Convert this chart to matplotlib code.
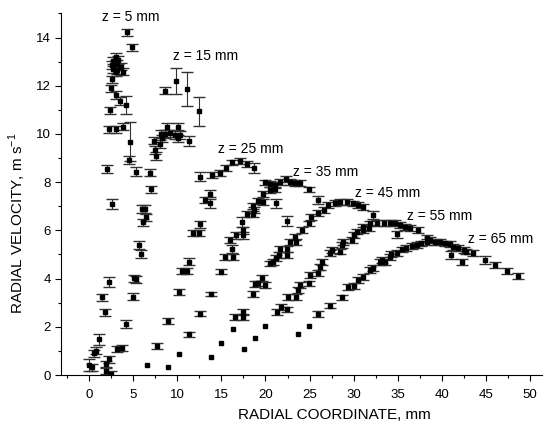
import numpy as np
import matplotlib
matplotlib.use("Agg")
import matplotlib.pyplot as plt
from matplotlib.ticker import MultipleLocator

plt.rcParams['font.family'] = ['Liberation Sans', 'DejaVu Sans']
plt.rcParams['mathtext.fontset'] = 'custom'
plt.rcParams['mathtext.rm'] = 'Liberation Sans'

# radial coordinate (mm), radial velocity (m/s), error (m/s); 0 error = plain marker
r_z5 = [0.0, 0.27, 0.57, 0.76, 1.13, 1.40, 1.78, 1.90, 1.90, 2.27, 2.43, 2.24, 2.54, 2.04,
        2.27, 3.03, 3.86, 2.35, 3.50, 4.13, 3.00, 2.43, 2.54, 3.00, 2.72, 3.30, 2.54, 3.10,
        3.60, 2.72, 3.20, 3.86, 3.00, 4.24, 4.80, 4.62, 4.50, 5.27]
v_z5 = [0.41, 0.32, 0.90, 1.01, 1.48, 3.22, 2.60, 0.44, 0.18, 0.65, 0.03, 3.87, 7.10, 8.55,
        10.19, 10.19, 10.30, 10.98, 11.37, 11.20, 11.62, 11.90, 12.27, 13.20, 13.04, 13.07,
        12.86, 12.90, 12.80, 12.68, 12.65, 12.58, 12.56, 14.22, 13.60, 9.68, 8.92, 8.44]
e_z5 = [0.25, 0.15, 0.15, 0.15, 0.22, 0.15, 0.15, 0.15, 0.15, 0.15, 0.15, 0.2, 0.2, 0.15,
        0.15, 0.15, 0.15, 0.15, 0.15, 0.38, 0.15, 0.15, 0.15, 0.15, 0.15, 0.15, 0.15, 0.15,
        0.15, 0.15, 0.15, 0.15, 0.15, 0.15, 0.15, 0.8, 0.15, 0.2]

r_z15 = [3.18, 3.68, 4.17, 4.93, 5.07, 5.30, 5.68, 5.83, 6.13, 6.44, 5.95, 6.30, 7.04, 6.90,
         7.57, 7.45, 8.00, 7.34, 8.20, 8.10, 8.60, 9.16, 9.73, 10.30, 10.10, 11.30, 8.78,
         10.10, 8.60, 9.84, 11.05, 12.40]
v_z15 = [1.08, 1.11, 2.12, 3.25, 4.01, 3.97, 5.39, 5.02, 6.34, 6.54, 6.89, 6.89, 7.70, 8.40,
         9.09, 9.34, 9.58, 9.72, 9.82, 10.00, 10.00, 10.03, 9.96, 9.96, 9.82, 9.72, 10.30,
         10.30, 11.80, 12.19, 11.88, 10.95]
e_z15 = [0.12, 0.12, 0.15, 0.15, 0.15, 0.15, 0.15, 0.15, 0.15, 0.15, 0.15, 0.15, 0.15, 0.15,
         0.15, 0.15, 0.15, 0.15, 0.15, 0.15, 0.15, 0.15, 0.15, 0.15, 0.15, 0.2, 0.15,
         0.15, 0.15, 0.55, 0.7, 0.6]

r_z25 = [6.50, 7.65, 8.90, 10.20, 10.50, 11.10, 11.35, 11.80, 12.40, 12.57, 13.10, 13.70,
         13.70, 12.57, 13.90, 14.80, 15.50, 16.20, 17.10, 17.90, 18.70, 21.20, 22.40]
v_z25 = [0.40, 1.20, 2.25, 3.46, 4.33, 4.33, 4.70, 5.88, 5.88, 6.25, 7.26, 7.12,
         7.53, 8.23, 8.30, 8.37, 8.58, 8.82, 8.88, 8.74, 8.58, 7.12, 6.40]
e_z25 = [0, 0.12, 0.12, 0.12, 0.12, 0.12, 0.15, 0.12, 0.12, 0.15, 0.12, 0.2,
         0.15, 0.2, 0.12, 0.12, 0.12, 0.12, 0.12, 0.12, 0.2, 0.2, 0.2]

r_z35 = [8.93, 10.20, 11.35, 12.57, 13.80, 15.00, 15.40, 16.30, 16.20, 16.00, 16.70, 17.40,
         17.40, 17.30, 17.90, 18.60, 18.70, 18.60, 19.20, 19.75, 19.75, 20.50, 21.10, 19.90,
         20.50, 21.10, 21.60, 22.30, 22.80, 23.40, 23.90, 24.90, 26.00]
v_z35 = [0.32, 0.88, 1.69, 2.54, 3.36, 4.29, 4.90, 4.90, 5.23, 5.60, 5.80, 5.80,
         6.00, 6.36, 6.68, 6.68, 6.85, 7.00, 7.22, 7.19, 7.52, 7.68, 7.70, 7.99,
         7.93, 7.88, 8.00, 8.12, 8.02, 7.98, 7.98, 7.70, 7.26]
e_z35 = [0, 0, 0.1, 0.1, 0.1, 0.12, 0.12, 0.12, 0.15, 0.12, 0.15, 0.15,
         0.15, 0.2, 0.12, 0.12, 0.12, 0.12, 0.12, 0.12, 0.12, 0.12, 0.12, 0.12,
         0.12, 0.12, 0.12, 0.12, 0.12, 0.12, 0.12, 0.12, 0.15]

r_z45 = [13.80, 15.00, 16.30, 16.50, 17.50, 17.50, 18.60, 18.80, 19.20, 19.60, 19.90, 20.50,
         20.90, 21.20, 21.50, 21.70, 22.40, 22.40, 22.80, 23.50, 23.30, 24.10, 24.90, 25.20,
         26.00, 26.60, 27.10, 27.90, 28.50, 29.20, 29.95, 30.50, 31.10, 32.20]
v_z45 = [0.76, 1.31, 1.91, 2.42, 2.42, 2.61, 3.35, 3.77, 3.80, 4.03, 3.75, 4.63,
         4.70, 4.84, 4.98, 5.24, 5.23, 4.98, 5.53, 5.53, 5.74, 6.02, 6.29, 6.57,
         6.71, 6.85, 7.05, 7.15, 7.19, 7.19, 7.12, 7.05, 6.96, 6.64]
e_z45 = [0, 0, 0, 0.12, 0.12, 0.12, 0.12, 0.12, 0.12, 0.12, 0.12, 0.12,
         0.12, 0.12, 0.12, 0.12, 0.12, 0.12, 0.12, 0.12, 0.12, 0.12, 0.12, 0.12,
         0.12, 0.12, 0.12, 0.12, 0.12, 0.12, 0.12, 0.12, 0.12, 0.15]

r_z55 = [17.56, 18.80, 20.00, 21.30, 21.80, 22.40, 22.60, 23.50, 23.70, 23.90, 24.90, 25.05,
         26.00, 26.20, 26.40, 27.30, 27.50, 28.50, 28.65, 28.80, 29.80, 30.00, 30.35, 31.10,
         31.70, 31.10, 31.90, 32.60, 33.40, 34.10, 34.70, 35.30, 35.80, 36.40, 37.30, 34.90]
v_z55 = [1.08, 1.52, 2.03, 2.63, 2.83, 2.72, 3.25, 3.25, 3.53, 3.73, 3.80, 4.15,
         4.22, 4.49, 4.70, 5.05, 5.19, 5.12, 5.39, 5.53, 5.60, 5.81, 5.95, 6.02,
         6.09, 6.15, 6.29, 6.32, 6.32, 6.32, 6.32, 6.22, 6.15, 6.09, 6.02, 5.84]
e_z55 = [0, 0, 0, 0.12, 0.12, 0.12, 0.12, 0.12, 0.12, 0.12, 0.12, 0.12,
         0.12, 0.12, 0.12, 0.12, 0.12, 0.12, 0.12, 0.12, 0.12, 0.12, 0.12, 0.12,
         0.12, 0.12, 0.12, 0.12, 0.12, 0.12, 0.12, 0.12, 0.12, 0.12, 0.12, 0.15]

r_z65 = [23.70, 24.90, 26.00, 27.30, 28.65, 29.40, 30.00, 30.50, 31.10, 31.90, 32.20, 33.00,
         33.60, 33.20, 34.10, 34.30, 34.90, 35.50, 36.00, 36.60, 37.20, 37.70, 38.30, 38.30,
         38.70, 39.20, 39.80, 40.40, 40.90, 41.30, 41.10, 41.90, 42.30, 42.50, 42.80, 43.60,
         44.90, 46.10, 47.40, 48.70]
v_z65 = [1.70, 2.05, 2.53, 2.88, 3.22, 3.64, 3.69, 3.94, 4.05, 4.36, 4.43, 4.70,
         4.70, 4.77, 4.91, 5.02, 5.05, 5.21, 5.26, 5.35, 5.39, 5.46, 5.53, 5.67,
         5.60, 5.53, 5.53, 5.46, 5.43, 5.32, 4.98, 5.26, 4.70, 5.19, 5.12, 5.05,
         4.77, 4.56, 4.33, 4.11]
e_z65 = [0, 0, 0.12, 0.12, 0.12, 0.12, 0.12, 0.12, 0.12, 0.12, 0.12, 0.12,
         0.12, 0.12, 0.12, 0.12, 0.12, 0.12, 0.12, 0.12, 0.12, 0.12, 0.12, 0.15,
         0.12, 0.12, 0.12, 0.12, 0.12, 0.12, 0.15, 0.12, 0.12, 0.12, 0.12, 0.12,
         0.15, 0.12, 0.12, 0.12]

series = [(r_z5, v_z5, e_z5), (r_z15, v_z15, e_z15), (r_z25, v_z25, e_z25),
          (r_z35, v_z35, e_z35), (r_z45, v_z45, e_z45), (r_z55, v_z55, e_z55),
          (r_z65, v_z65, e_z65)]

z_labels = ['z = 5 mm', 'z = 15 mm', 'z = 25 mm', 'z = 35 mm',
            'z = 45 mm', 'z = 55 mm', 'z = 65 mm']
label_pos = [(1.4, 14.87), (9.5, 13.25), (14.57, 9.38), (23.16, 8.41),
             (30.16, 7.56), (36.1, 6.6), (43.0, 5.63)]

fig = plt.figure(figsize=(5.47, 4.26), dpi=100)
ax = fig.add_axes([61 / 547, 1 - 375 / 426, 480.7 / 547, 362 / 426])

for r, v, e in series:
    r, v, e = np.array(r), np.array(v), np.array(e)
    has_err = e > 0
    ax.errorbar(r[has_err], v[has_err], yerr=e[has_err], fmt='s', color='black',
                ms=3.4, ecolor='#333333', elinewidth=0.8, capsize=4.6, capthick=1.0)
    ax.plot(r[~has_err], v[~has_err], 's', color='black', ms=3.4)

for txt, (x, y) in zip(z_labels, label_pos):
    ax.text(x, y, txt, ha='left', va='center', fontsize=10)

ax.set_xlim(-3.21, 51.35)
ax.set_ylim(0, 15.02)
ax.xaxis.set_major_locator(MultipleLocator(5))
ax.xaxis.set_minor_locator(MultipleLocator(2.5))
ax.yaxis.set_major_locator(MultipleLocator(2))
ax.yaxis.set_minor_locator(MultipleLocator(1))
ax.tick_params(which='major', direction='out', length=4, width=0.8, labelsize=9.5)
ax.tick_params(which='minor', direction='out', length=2.2, width=0.8)
ax.tick_params(axis='x', which='major', pad=6)
ax.spines['top'].set_visible(False)
ax.spines['right'].set_visible(False)

ax.set_xlabel('RADIAL COORDINATE, mm', fontsize=11)
ax.set_ylabel(r'RADIAL VELOCITY, m s$^{\mathrm{-1}}$', fontsize=11)
ax.xaxis.set_label_coords(0.568, -0.092)
ax.yaxis.set_label_coords(-0.068, 0.42)

plt.savefig('out.png', dpi=100)
plt.close()
